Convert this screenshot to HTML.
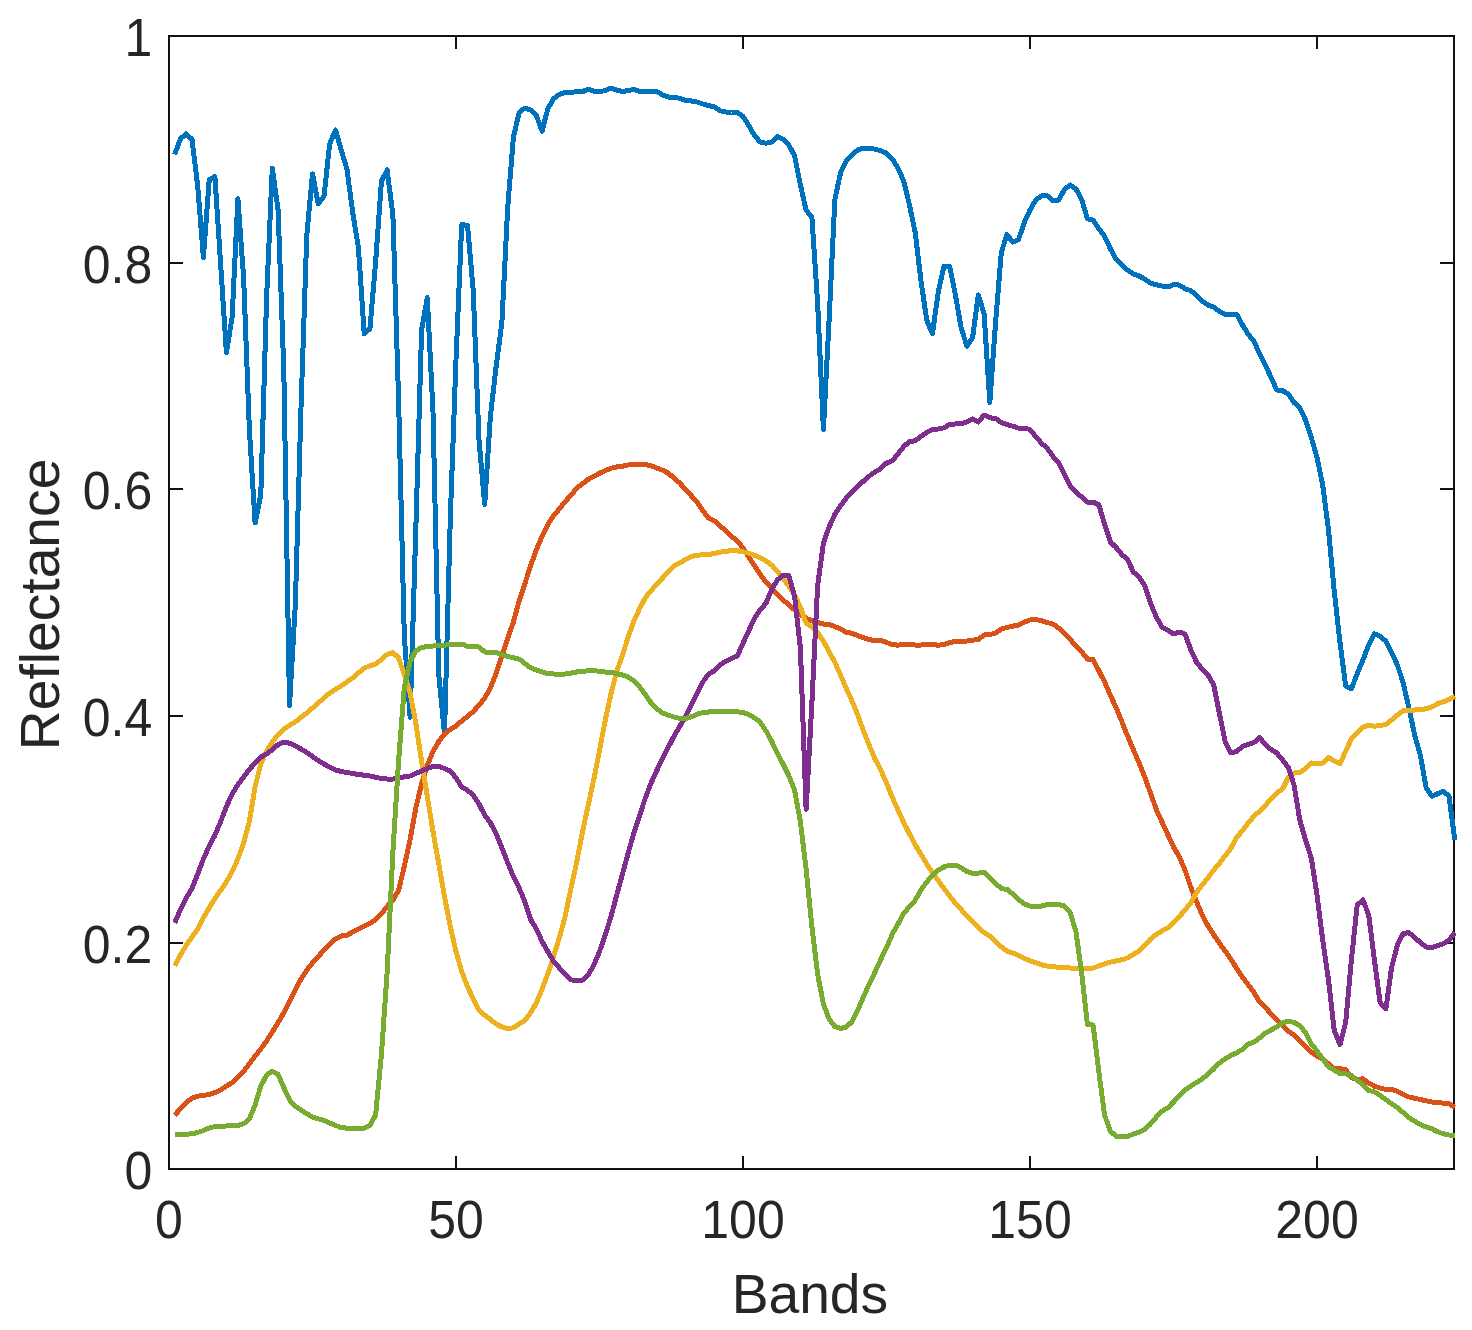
<!DOCTYPE html><html><head><meta charset="utf-8"><title>Reflectance vs Bands</title>
<style>html,body{margin:0;padding:0;background:#fff}svg{display:block}text{font-family:"Liberation Sans",Arial,Helvetica,sans-serif;fill:#262626}</style></head><body>
<svg width="1472" height="1330" viewBox="0 0 1472 1330">
<rect width="1472" height="1330" fill="#fff"/>
<g stroke="#111" stroke-width="2" fill="none" shape-rendering="crispEdges">
<rect x="169" y="36" width="1285" height="1133"/>
<path d="M456.00,1169v-13M456.00,36v13"/>
<path d="M743.00,1169v-13M743.00,36v13"/>
<path d="M1030.00,1169v-13M1030.00,36v13"/>
<path d="M1317.00,1169v-13M1317.00,36v13"/>
<path d="M169,943.00h14M1454,943.00h-14"/>
<path d="M169,716.00h14M1454,716.00h-14"/>
<path d="M169,489.00h14M1454,489.00h-14"/>
<path d="M169,263.00h14M1454,263.00h-14"/>
</g>
<g fill="none" stroke-width="5" stroke-linejoin="round" stroke-linecap="butt" shape-rendering="crispEdges">
<polyline stroke="#0072BD" points="174.7,154.5 180.5,138.8 186.2,133.8 192.0,139.5 197.7,186.0 203.4,257.5 209.2,180.0 214.9,176.5 220.7,265.0 226.4,352.5 232.1,317.5 237.9,198.8 243.6,277.5 249.4,430.0 255.1,523.0 260.8,494.5 266.6,297.5 272.3,168.0 278.1,210.0 283.8,370.0 289.5,705.5 295.3,605.0 301.0,408.0 306.8,235.0 312.5,173.8 318.2,203.8 324.0,196.2 329.7,143.8 335.5,130.0 341.2,150.0 346.9,168.8 352.7,212.5 358.4,247.5 364.2,333.8 369.9,328.8 375.6,262.5 381.4,181.2 387.1,170.0 392.9,215.0 398.6,400.0 404.3,636.0 410.1,717.5 415.8,529.5 421.6,330.0 427.3,297.5 433.0,412.0 438.8,675.0 444.5,734.0 450.3,518.0 456.0,360.0 461.7,224.5 467.5,225.5 473.2,290.0 479.0,440.0 484.7,504.5 490.4,416.0 496.2,366.0 501.9,322.5 507.7,207.5 513.4,137.5 519.1,112.5 524.9,108.0 530.6,110.0 536.4,115.5 542.1,131.2 547.8,108.8 553.6,98.8 559.3,94.5 565.1,92.5 570.8,93.0 576.5,91.2 582.3,91.8 588.0,89.2 593.8,91.2 599.5,91.8 605.2,90.5 611.0,88.2 616.7,90.0 622.5,91.5 628.2,90.5 633.9,89.5 639.7,91.5 645.4,91.8 651.2,91.2 656.9,91.5 662.6,95.0 668.4,97.0 674.1,97.5 679.9,98.2 685.6,100.5 691.3,101.0 697.1,102.0 702.8,104.0 708.6,105.5 714.3,107.0 720.0,110.8 725.8,112.0 731.5,112.5 737.3,112.5 743.0,116.2 748.7,125.5 754.5,135.5 760.2,142.0 766.0,143.2 771.7,142.0 777.4,136.2 783.2,139.5 788.9,145.0 794.7,156.2 800.4,185.0 806.1,210.0 811.9,217.5 817.6,302.5 823.4,429.5 829.1,320.0 834.8,200.0 840.6,172.5 846.3,161.2 852.1,154.5 857.8,150.0 863.5,148.0 869.3,148.0 875.0,149.2 880.8,150.8 886.5,153.2 892.2,158.8 898.0,168.0 903.7,181.2 909.5,205.0 915.2,232.5 920.9,280.0 926.7,320.0 932.4,333.8 938.2,292.5 943.9,266.2 949.6,266.2 955.4,295.0 961.1,327.5 966.9,346.2 972.6,337.5 978.3,295.0 984.1,313.8 989.8,402.5 995.6,322.5 1001.3,252.5 1007.0,234.5 1012.8,242.0 1018.5,239.5 1024.3,222.5 1030.0,210.0 1035.7,200.0 1041.5,195.8 1047.2,195.8 1053.0,200.8 1058.7,200.0 1064.4,189.5 1070.2,185.0 1075.9,188.8 1081.7,199.5 1087.4,218.8 1093.1,220.0 1098.9,228.8 1104.6,236.2 1110.4,248.8 1116.1,259.5 1121.8,265.2 1127.6,270.2 1133.3,274.0 1139.1,276.0 1144.8,279.0 1150.5,283.0 1156.3,284.8 1162.0,286.0 1167.8,287.0 1173.5,284.5 1179.2,285.0 1185.0,288.8 1190.7,290.5 1196.5,295.2 1202.2,301.0 1207.9,305.0 1213.7,307.0 1219.4,311.5 1225.2,314.2 1230.9,314.2 1236.6,314.2 1242.4,324.8 1248.1,334.2 1253.9,341.2 1259.6,353.8 1265.3,365.0 1271.1,377.5 1276.8,390.0 1282.6,390.8 1288.3,393.8 1294.0,402.5 1299.8,408.0 1305.5,420.0 1311.3,437.5 1317.0,457.5 1322.7,485.0 1328.5,530.0 1334.2,591.0 1340.0,642.5 1345.7,686.2 1351.4,688.8 1357.2,673.8 1362.9,660.0 1368.7,645.0 1374.4,633.8 1380.1,636.2 1385.9,641.2 1391.6,652.5 1397.4,665.0 1403.1,682.5 1408.8,707.5 1414.6,735.0 1420.3,755.0 1426.1,787.5 1431.8,796.2 1437.5,793.8 1443.3,791.2 1449.0,796.2 1454.8,840.0"/>
<polyline stroke="#D95319" points="174.7,1115.0 180.5,1108.8 186.2,1102.5 192.0,1098.0 197.7,1096.2 203.4,1095.5 209.2,1094.5 214.9,1092.5 220.7,1090.0 226.4,1086.2 232.1,1082.5 237.9,1077.5 243.6,1071.2 249.4,1063.8 255.1,1056.2 260.8,1049.0 266.6,1041.0 272.3,1032.0 278.1,1022.5 283.8,1012.8 289.5,1001.5 295.3,990.2 301.0,979.0 306.8,970.2 312.5,962.8 318.2,956.5 324.0,950.2 329.7,944.0 335.5,939.0 341.2,936.0 346.9,935.2 352.7,932.0 358.4,929.0 364.2,926.0 369.9,923.5 375.6,919.5 381.4,914.0 387.1,906.5 392.9,900.2 398.6,890.2 404.3,866.5 410.1,839.5 415.8,808.0 421.6,784.0 427.3,765.2 433.0,751.5 438.8,741.5 444.5,734.0 450.3,729.5 456.0,726.0 461.7,721.0 467.5,716.5 473.2,711.5 479.0,705.2 484.7,698.2 490.4,688.0 496.2,673.2 501.9,655.8 507.7,638.2 513.4,622.0 519.1,601.0 524.9,583.5 530.6,565.9 536.4,549.6 542.1,536.1 547.8,524.6 553.6,515.8 559.3,509.0 565.1,501.6 570.8,495.5 576.5,488.2 582.3,484.0 588.0,479.5 593.8,476.5 599.5,473.2 605.2,470.8 611.0,468.2 616.7,467.0 622.5,466.2 628.2,465.0 633.9,464.5 639.7,464.2 645.4,464.5 651.2,465.8 656.9,468.2 662.6,470.2 668.4,473.2 674.1,478.2 679.9,483.2 685.6,489.5 691.3,495.8 697.1,502.0 702.8,510.8 708.6,518.2 714.3,520.8 720.0,525.8 725.8,530.8 731.5,536.5 737.3,540.8 743.0,548.2 748.7,557.0 754.5,565.8 760.2,574.5 766.0,582.0 771.7,588.2 777.4,594.5 783.2,600.0 788.9,605.0 794.7,610.0 800.4,614.5 806.1,618.2 811.9,620.8 817.6,622.5 823.4,624.0 829.1,624.5 834.8,626.5 840.6,629.0 846.3,632.5 852.1,633.2 857.8,635.8 863.5,637.8 869.3,639.5 875.0,640.8 880.8,640.2 886.5,642.5 892.2,644.5 898.0,645.2 903.7,644.0 909.5,644.0 915.2,645.0 920.9,645.0 926.7,644.5 932.4,644.5 938.2,645.2 943.9,644.5 949.6,642.5 955.4,641.5 961.1,642.0 966.9,641.0 972.6,640.2 978.3,639.5 984.1,635.0 989.8,634.5 995.6,633.2 1001.3,629.0 1007.0,627.5 1012.8,626.2 1018.5,625.0 1024.3,622.0 1030.0,620.0 1035.7,619.5 1041.5,620.8 1047.2,622.5 1053.0,624.0 1058.7,628.2 1064.4,633.2 1070.2,639.5 1075.9,645.8 1081.7,652.0 1087.4,659.0 1093.1,659.5 1098.9,670.8 1104.6,682.0 1110.4,695.5 1116.1,707.5 1121.8,721.5 1127.6,736.0 1133.3,749.5 1139.1,763.2 1144.8,777.0 1150.5,793.2 1156.3,809.5 1162.0,822.0 1167.8,834.5 1173.5,847.0 1179.2,856.5 1185.0,870.0 1190.7,887.0 1196.5,901.5 1202.2,915.0 1207.9,925.8 1213.7,934.8 1219.4,943.2 1225.2,951.0 1230.9,959.5 1236.6,968.2 1242.4,977.0 1248.1,984.8 1253.9,992.5 1259.6,1002.0 1265.3,1007.5 1271.1,1013.8 1276.8,1019.5 1282.6,1025.0 1288.3,1031.2 1294.0,1035.0 1299.8,1040.5 1305.5,1046.2 1311.3,1052.0 1317.0,1056.2 1322.7,1058.8 1328.5,1063.8 1334.2,1068.8 1340.0,1068.8 1345.7,1069.5 1351.4,1077.5 1357.2,1079.5 1362.9,1078.8 1368.7,1083.0 1374.4,1086.2 1380.1,1088.0 1385.9,1089.5 1391.6,1089.2 1397.4,1091.2 1403.1,1094.5 1408.8,1097.0 1414.6,1098.2 1420.3,1099.5 1426.1,1100.8 1431.8,1102.0 1437.5,1102.5 1443.3,1103.2 1449.0,1103.8 1454.8,1107.5"/>
<polyline stroke="#EDB120" points="174.7,966.0 180.5,955.0 186.2,945.2 192.0,937.0 197.7,929.0 203.4,917.8 209.2,907.8 214.9,898.5 220.7,890.2 226.4,882.0 232.1,871.5 237.9,859.0 243.6,842.8 249.4,821.5 255.1,786.5 260.8,764.0 266.6,751.0 272.3,742.0 278.1,734.5 283.8,729.0 289.5,725.2 295.3,722.0 301.0,717.5 306.8,713.0 312.5,708.0 318.2,703.0 324.0,698.0 329.7,693.0 335.5,689.4 341.2,685.8 346.9,681.9 352.7,678.0 358.4,673.0 364.2,668.0 369.9,666.0 375.6,664.0 381.4,659.5 387.1,654.5 392.9,652.5 398.6,658.0 404.3,674.5 410.1,693.0 415.8,723.0 421.6,761.5 427.3,796.5 433.0,831.5 438.8,864.0 444.5,896.5 450.3,926.5 456.0,951.5 461.7,971.5 467.5,986.5 473.2,999.0 479.0,1010.2 484.7,1015.2 490.4,1019.5 496.2,1024.0 501.9,1027.0 507.7,1028.5 513.4,1027.8 519.1,1024.0 524.9,1020.5 530.6,1012.8 536.4,1002.8 542.1,989.0 547.8,974.0 553.6,956.5 559.3,937.8 565.1,916.5 570.8,889.1 576.5,863.0 582.3,833.0 588.0,806.0 593.8,779.5 599.5,750.5 605.2,720.5 611.0,693.7 616.7,671.6 622.5,655.0 628.2,637.0 633.9,621.0 639.7,608.4 645.4,597.4 651.2,590.5 656.9,584.2 662.6,577.9 668.4,571.6 674.1,565.8 679.9,563.0 685.6,559.5 691.3,556.5 697.1,555.2 702.8,554.8 708.6,554.5 714.3,553.5 720.0,552.2 725.8,551.2 731.5,550.8 737.3,550.8 743.0,551.8 748.7,553.2 754.5,555.2 760.2,557.8 766.0,561.0 771.7,565.0 777.4,571.6 783.2,578.4 788.9,586.5 794.7,595.3 800.4,607.0 806.1,623.2 811.9,627.0 817.6,632.5 823.4,641.0 829.1,651.7 834.8,662.2 840.6,675.3 846.3,688.5 852.1,701.3 857.8,715.2 863.5,731.0 869.3,745.6 875.0,759.0 880.8,770.0 886.5,783.0 892.2,797.0 898.0,810.2 903.7,822.5 909.5,834.0 915.2,844.8 920.9,854.3 926.7,863.8 932.4,872.6 938.2,880.5 943.9,888.5 949.6,896.0 955.4,903.2 961.1,909.5 966.9,915.8 972.6,921.5 978.3,927.5 984.1,932.5 989.8,936.2 995.6,941.8 1001.3,946.8 1007.0,951.2 1012.8,953.0 1018.5,955.5 1024.3,958.5 1030.0,960.8 1035.7,962.8 1041.5,964.8 1047.2,966.0 1053.0,966.5 1058.7,967.5 1064.4,967.8 1070.2,968.0 1075.9,968.5 1081.7,968.5 1087.4,968.5 1093.1,968.0 1098.9,966.0 1104.6,964.0 1110.4,962.2 1116.1,960.8 1121.8,959.8 1127.6,957.8 1133.3,954.5 1139.1,951.0 1144.8,945.2 1150.5,939.0 1156.3,934.5 1162.0,931.0 1167.8,927.8 1173.5,922.8 1179.2,916.5 1185.0,910.2 1190.7,902.8 1196.5,892.5 1202.2,885.0 1207.9,878.0 1213.7,870.0 1219.4,863.2 1225.2,855.8 1230.9,848.2 1236.6,837.5 1242.4,830.8 1248.1,823.2 1253.9,816.2 1259.6,811.2 1265.3,805.5 1271.1,798.8 1276.8,793.0 1282.6,788.8 1288.3,777.5 1294.0,773.0 1299.8,772.5 1305.5,768.8 1311.3,763.0 1317.0,763.8 1322.7,763.0 1328.5,757.5 1334.2,760.8 1340.0,763.8 1345.7,751.2 1351.4,738.8 1357.2,733.0 1362.9,727.0 1368.7,725.5 1374.4,726.2 1380.1,725.5 1385.9,724.5 1391.6,720.0 1397.4,715.0 1403.1,710.8 1408.8,710.0 1414.6,710.0 1420.3,709.5 1426.1,708.8 1431.8,707.0 1437.5,703.8 1443.3,701.8 1449.0,699.5 1454.8,696.2"/>
<polyline stroke="#7E2F8E" points="174.7,923.0 180.5,909.5 186.2,897.8 192.0,888.5 197.7,874.0 203.4,859.0 209.2,846.0 214.9,835.2 220.7,821.5 226.4,806.5 232.1,794.0 237.9,784.5 243.6,777.0 249.4,769.5 255.1,762.8 260.8,757.2 266.6,754.0 272.3,749.8 278.1,744.5 283.8,742.2 289.5,743.2 295.3,746.0 301.0,749.0 306.8,752.5 312.5,756.5 318.2,760.5 324.0,764.0 329.7,767.0 335.5,770.0 341.2,771.5 346.9,772.5 352.7,773.5 358.4,774.5 364.2,775.2 369.9,776.0 375.6,777.2 381.4,778.5 387.1,779.0 392.9,779.0 398.6,778.2 404.3,776.8 410.1,776.0 415.8,773.5 421.6,771.0 427.3,768.5 433.0,766.5 438.8,766.5 444.5,768.5 450.3,771.0 456.0,777.8 461.7,787.2 467.5,790.2 473.2,795.2 479.0,804.0 484.7,815.2 490.4,822.8 496.2,834.0 501.9,847.8 507.7,862.8 513.4,876.5 519.1,887.8 524.9,902.0 530.6,919.5 536.4,929.0 542.1,941.5 547.8,951.5 553.6,961.5 559.3,967.8 565.1,974.5 570.8,979.8 576.5,980.8 582.3,980.2 588.0,975.2 593.8,965.2 599.5,951.5 605.2,935.2 611.0,916.5 616.7,895.2 622.5,874.0 628.2,852.8 633.9,832.8 639.7,815.2 645.4,797.8 651.2,782.8 656.9,770.2 662.6,758.5 668.4,747.0 674.1,736.0 679.9,726.0 685.6,716.8 691.3,705.0 697.1,693.2 702.8,682.0 708.6,674.0 714.3,670.8 720.0,665.0 725.8,661.2 731.5,658.5 737.3,656.0 743.0,643.2 748.7,630.8 754.5,618.2 760.2,610.0 766.0,603.2 771.7,589.5 777.4,580.0 783.2,575.0 788.9,575.8 794.7,597.0 800.4,648.0 806.1,809.5 811.9,703.0 817.6,585.8 823.4,543.2 829.1,527.0 834.8,514.5 840.6,505.8 846.3,498.2 852.1,492.0 857.8,486.5 863.5,481.0 869.3,476.0 875.0,472.0 880.8,468.5 886.5,463.0 892.2,460.8 898.0,454.0 903.7,446.5 909.5,441.5 915.2,440.8 920.9,436.5 926.7,432.5 932.4,429.5 938.2,429.0 943.9,427.8 949.6,424.5 955.4,424.0 961.1,423.8 966.9,422.0 972.6,419.0 978.3,422.0 984.1,415.0 989.8,417.8 995.6,418.5 1001.3,422.5 1007.0,424.5 1012.8,426.2 1018.5,428.2 1024.3,428.2 1030.0,429.5 1035.7,436.5 1041.5,443.2 1047.2,448.2 1053.0,456.5 1058.7,463.2 1064.4,474.5 1070.2,485.8 1075.9,492.0 1081.7,497.0 1087.4,502.0 1093.1,502.0 1098.9,505.0 1104.6,524.5 1110.4,542.0 1116.1,547.5 1121.8,554.5 1127.6,559.5 1133.3,572.0 1139.1,577.0 1144.8,585.8 1150.5,603.2 1156.3,617.0 1162.0,627.0 1167.8,630.2 1173.5,634.0 1179.2,632.0 1185.0,634.0 1190.7,649.5 1196.5,662.0 1202.2,669.5 1207.9,675.0 1213.7,685.0 1219.4,713.2 1225.2,742.0 1230.9,753.0 1236.6,751.5 1242.4,746.5 1248.1,744.5 1253.9,742.5 1259.6,737.5 1265.3,744.5 1271.1,749.5 1276.8,753.0 1282.6,760.0 1288.3,767.5 1294.0,785.0 1299.8,820.0 1305.5,840.0 1311.3,858.0 1317.0,895.0 1322.7,940.0 1328.5,980.0 1334.2,1030.0 1340.0,1044.5 1345.7,1022.5 1351.4,960.0 1357.2,905.0 1362.9,900.0 1368.7,915.0 1374.4,960.0 1380.1,1002.5 1385.9,1008.8 1391.6,967.5 1397.4,945.0 1403.1,933.8 1408.8,932.5 1414.6,937.5 1420.3,942.5 1426.1,947.0 1431.8,947.5 1437.5,945.8 1443.3,943.8 1449.0,940.0 1454.8,932.5"/>
<polyline stroke="#77AC30" points="174.7,1134.2 180.5,1134.2 186.2,1134.2 192.0,1133.8 197.7,1132.5 203.4,1130.5 209.2,1128.0 214.9,1126.5 220.7,1126.0 226.4,1126.0 232.1,1125.8 237.9,1125.5 243.6,1123.8 249.4,1118.8 255.1,1105.0 260.8,1086.2 266.6,1075.0 272.3,1071.2 278.1,1074.5 283.8,1087.5 289.5,1100.0 295.3,1106.2 301.0,1110.0 306.8,1113.8 312.5,1117.0 318.2,1118.8 324.0,1120.5 329.7,1123.0 335.5,1125.5 341.2,1127.5 346.9,1128.2 352.7,1128.8 358.4,1128.8 364.2,1128.2 369.9,1125.5 375.6,1115.0 381.4,1055.0 387.1,973.0 392.9,852.0 398.6,761.0 404.3,687.5 410.1,661.5 415.8,650.8 421.6,647.5 427.3,646.5 433.0,646.0 438.8,645.5 444.5,645.1 450.3,644.8 456.0,644.4 461.7,644.0 467.5,646.5 473.2,646.8 479.0,647.0 484.7,652.0 490.4,652.2 496.2,652.5 501.9,654.5 507.7,656.5 513.4,657.8 519.1,659.0 524.9,663.5 530.6,667.8 536.4,670.0 542.1,672.0 547.8,673.8 553.6,674.0 559.3,674.0 565.1,674.0 570.8,673.2 576.5,672.0 582.3,671.5 588.0,670.8 593.8,670.8 599.5,671.2 605.2,672.0 611.0,672.5 616.7,673.5 622.5,675.0 628.2,677.0 633.9,680.8 639.7,687.0 645.4,694.5 651.2,703.0 656.9,709.0 662.6,713.0 668.4,715.2 674.1,717.0 679.9,718.5 685.6,718.5 691.3,716.8 697.1,714.2 702.8,712.5 708.6,712.0 714.3,711.5 720.0,711.0 725.8,711.0 731.5,711.5 737.3,711.8 743.0,712.5 748.7,714.5 754.5,718.0 760.2,722.0 766.0,731.0 771.7,741.3 777.4,753.5 783.2,764.3 788.9,775.8 794.7,790.7 800.4,821.8 806.1,869.0 811.9,926.5 817.6,974.0 823.4,1004.0 829.1,1019.0 834.8,1026.5 840.6,1028.5 846.3,1027.0 852.1,1021.5 857.8,1010.2 863.5,996.5 869.3,984.0 875.0,972.0 880.8,959.4 886.5,947.6 892.2,934.3 898.0,923.9 903.7,913.6 909.5,906.5 915.2,900.3 920.9,890.0 926.7,882.0 932.4,875.2 938.2,870.2 943.9,867.0 949.6,865.2 955.4,865.2 961.1,867.8 966.9,871.5 972.6,873.5 978.3,873.2 984.1,872.0 989.8,877.8 995.6,883.5 1001.3,888.5 1007.0,889.5 1012.8,894.0 1018.5,899.5 1024.3,904.0 1030.0,906.0 1035.7,906.0 1041.5,906.0 1047.2,904.5 1053.0,904.0 1058.7,904.5 1064.4,906.0 1070.2,912.8 1075.9,931.5 1081.7,973.0 1087.4,1024.5 1093.1,1025.0 1098.9,1072.5 1104.6,1115.0 1110.4,1131.2 1116.1,1136.2 1121.8,1136.8 1127.6,1136.2 1133.3,1134.2 1139.1,1132.0 1144.8,1129.5 1150.5,1124.0 1156.3,1117.2 1162.0,1111.2 1167.8,1107.8 1173.5,1102.0 1179.2,1096.0 1185.0,1089.8 1190.7,1086.2 1196.5,1082.5 1202.2,1078.8 1207.9,1074.5 1213.7,1068.8 1219.4,1063.0 1225.2,1058.8 1230.9,1055.5 1236.6,1052.8 1242.4,1049.5 1248.1,1044.2 1253.9,1042.0 1259.6,1038.0 1265.3,1033.0 1271.1,1030.0 1276.8,1027.0 1282.6,1023.0 1288.3,1021.2 1294.0,1022.5 1299.8,1025.5 1305.5,1032.5 1311.3,1043.8 1317.0,1051.2 1322.7,1058.8 1328.5,1067.0 1334.2,1070.0 1340.0,1073.8 1345.7,1073.8 1351.4,1075.5 1357.2,1080.0 1362.9,1085.0 1368.7,1090.5 1374.4,1091.8 1380.1,1095.5 1385.9,1099.5 1391.6,1103.8 1397.4,1107.5 1403.1,1112.5 1408.8,1117.5 1414.6,1121.2 1420.3,1124.5 1426.1,1127.0 1431.8,1128.8 1437.5,1131.8 1443.3,1133.8 1449.0,1135.0 1454.8,1135.5"/>
</g>
<g font-size="50" text-anchor="middle">
<text transform="translate(169.00,1237.8) scale(1,1.055)">0</text>
<text transform="translate(456.00,1237.8) scale(1,1.055)">50</text>
<text transform="translate(743.00,1237.8) scale(1,1.055)">100</text>
<text transform="translate(1030.00,1237.8) scale(1,1.055)">150</text>
<text transform="translate(1317.00,1237.8) scale(1,1.055)">200</text>
</g>
<g font-size="50" text-anchor="end">
<text transform="translate(152.3,1189.40) scale(1,1.055)">0</text>
<text transform="translate(152.3,962.74) scale(1,1.055)">0.2</text>
<text transform="translate(152.3,736.08) scale(1,1.055)">0.4</text>
<text transform="translate(152.3,509.42) scale(1,1.055)">0.6</text>
<text transform="translate(152.3,282.76) scale(1,1.055)">0.8</text>
<text transform="translate(152.3,56.10) scale(1,1.055)">1</text>
</g>
<text font-size="55.2" text-anchor="middle" transform="translate(809.9,1312.5) scale(1,1.02)">Bands</text>
<text font-size="55.2" text-anchor="middle" transform="translate(58.8,604.4) rotate(-90) scale(1,1.02)">Reflectance</text>
</svg></body></html>
